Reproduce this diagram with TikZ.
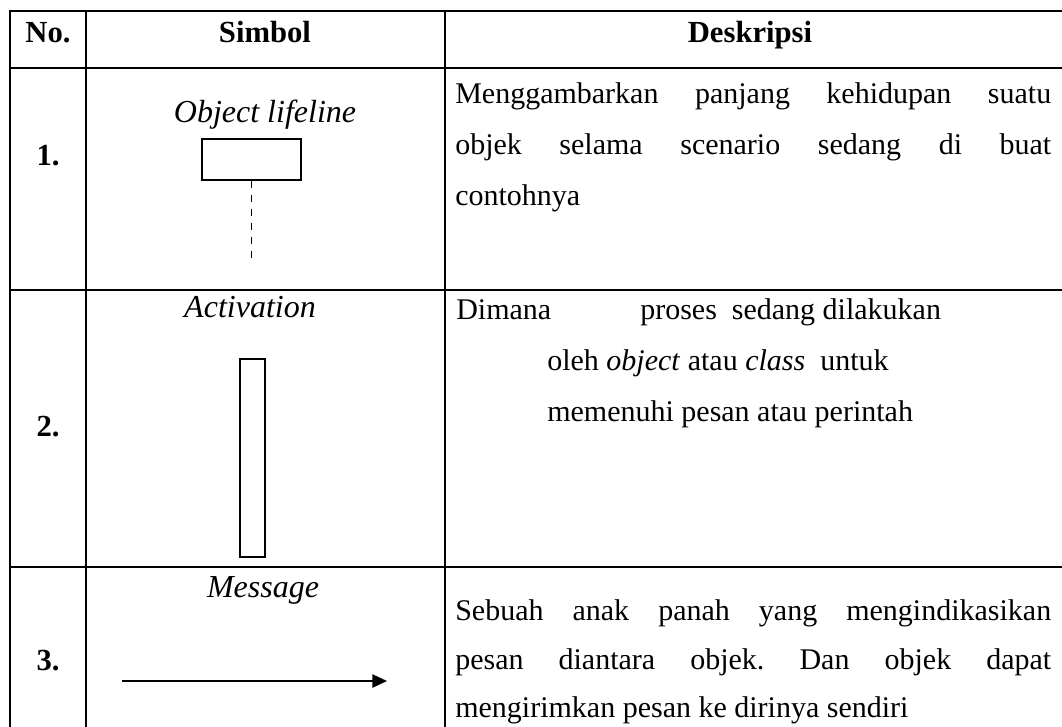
\documentclass[tikz,border=0pt]{standalone}
\usepackage{fontspec}
\setmainfont{Liberation Serif}
\usetikzlibrary{arrows.meta}
\frenchspacing
\begin{document}
\begin{tikzpicture}[x=0.75pt,y=-0.75pt,
  grid/.style={line width=1.6pt},
  symbox/.style={draw, line width=1pt},
  hdr/.style={font=\fontsize{23}{27}\selectfont\bfseries, anchor=base, inner sep=0pt},
  lbl/.style={font=\fontsize{24}{28}\selectfont\itshape, anchor=base, inner sep=0pt},
  body/.style={font=\fontsize{22.5}{26}\selectfont, anchor=base west, inner sep=0pt},
]
\useasboundingbox (0,0) rectangle (1062,727);
\clip (0,0) rectangle (1062,727);
% table grid
\draw[grid] (10,800) -- (10,11) -- (1080,11);
\draw[grid] (10,68) -- (1080,68);
\draw[grid] (10,290) -- (1080,290);
\draw[grid] (10,567) -- (1080,567);
\draw[grid] (86,11) -- (86,800);
\draw[grid] (445,11) -- (445,800);
% header
\node[hdr] (hno) at (48,43) {No.};
\node[hdr] (hsim) at (265,43) {Simbol};
\node[hdr] (hdes) at (750,43) {Deskripsi};
% row numbers
\node[hdr] (n1) at (48,166) {1.};
\node[hdr] (n2) at (48,436) {2.};
\node[hdr] (n3) at (48,670) {3.};
% row 1 symbol
\node[lbl] (l1) at (265,123) {Object lifeline};
\node[symbox, minimum width=74.25pt, minimum height=30.75pt, inner sep=0pt] (obj) at (251.5,159.5) {};
\coordinate (lifeend) at (252,258);
\draw[line width=1.2pt, dash pattern=on 5.25pt off 5.25pt] (obj.south) -- (obj.south |- lifeend);
% row 2 symbol
\node[lbl] (l2) at (250,317) {Activation};
\node[symbox, minimum width=18.75pt, minimum height=148.5pt, inner sep=0pt] (act) at (252.5,458) {};
% row 3 symbol
\node[lbl] (l3) at (263,597) {Message};
\coordinate (ms) at (122,681);
\coordinate (me) at (387,681);
\draw[line width=1pt, -{Triangle[length=11pt,width=10pt]}] (ms) -- (me);
% descriptions
\node[body] (d1a) at (455,104) {\makebox[447pt][s]{Menggambarkan panjang kehidupan suatu}};
\node[body] (d1b) at (455,155) {\makebox[447pt][s]{objek selama scenario sedang di buat}};
\node[body] (d1c) at (455,205) {contohnya};
\node[body] (d2a) at (456,319) {Dimana};
\node[body] (d2b) at (640,319) {proses\ \ sedang dilakukan};
\node[body] (d2c) at (547,370) {oleh \textit{object} atau \textit{class}\ \ untuk};
\node[body] (d2d) at (547,421) {memenuhi pesan atau perintah};
\node[body] (d3a) at (455,620) {\makebox[447pt][s]{Sebuah anak panah yang mengindikasikan}};
\node[body] (d3b) at (455,669) {\makebox[447pt][s]{pesan diantara objek. Dan objek dapat}};
\node[body] (d3c) at (455,717) {mengirimkan pesan ke dirinya sendiri};
\end{tikzpicture}
\end{document}
